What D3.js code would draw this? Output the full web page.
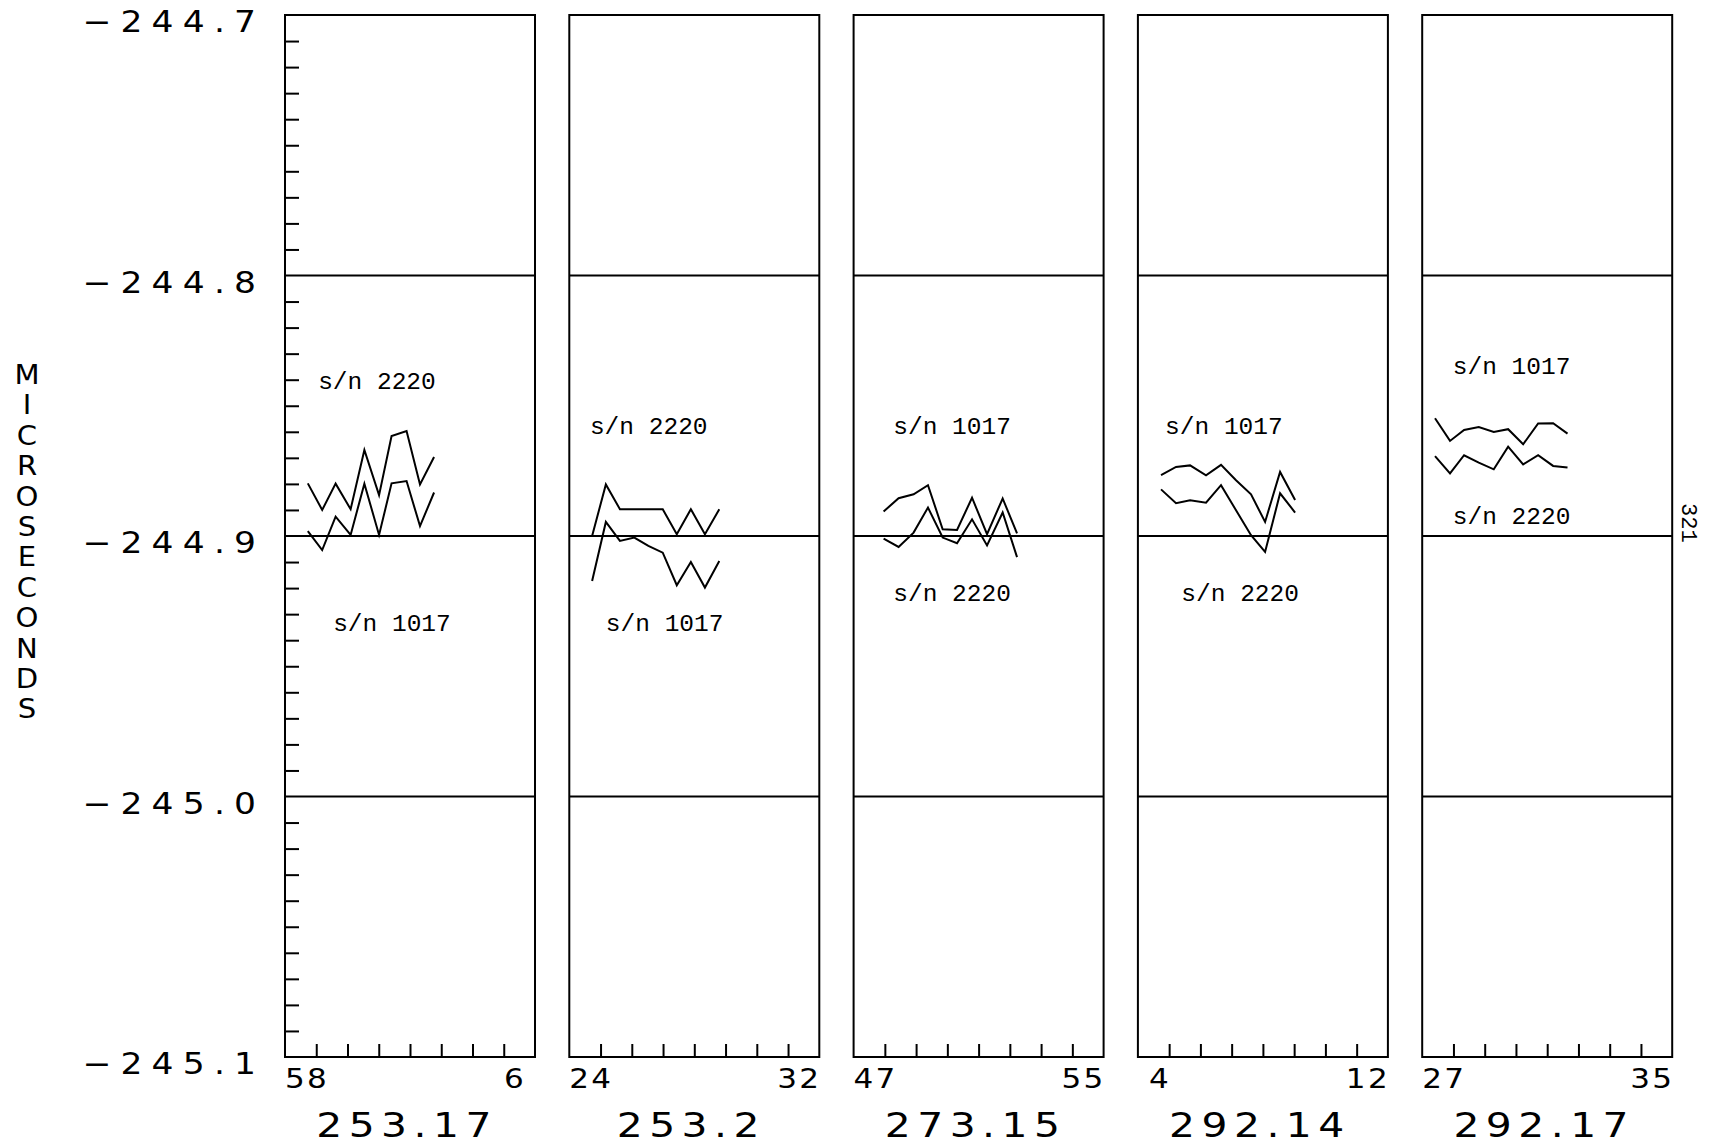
<!DOCTYPE html>
<html>
<head>
<meta charset="utf-8">
<script src="https://cdn.jsdelivr.net/npm/d3@7"></script>
<style>
  html, body { margin: 0; padding: 0; background: #fff; }
  svg { display: block; }
</style>
</head>
<body>
<svg id="chart" width="1717" height="1147"></svg>
<script>
// ---------- data ----------
const panelLabels = ["253.17", "253.2", "273.15", "292.14", "292.17"];
const startLabels = ["58", "24", "47", "4", "27"];
const endLabels   = ["6", "32", "55", "12", "35"];
const yMajorTicks = [-244.7, -244.8, -244.9, -245.0, -245.1];
const yTitle = "MICROSECONDS";
const pageNumber = "321";

// sample times, minutes after the start of each panel's window
const sampleMinutes = [
  [0.73, 1.19, 1.62, 2.10, 2.54, 3.01, 3.41, 3.89, 4.32, 4.77],
  [0.73, 1.17, 1.62, 2.08, 2.53, 2.99, 3.44, 3.89, 4.34, 4.80],
  [0.96, 1.44, 1.92, 2.38, 2.85, 3.31, 3.79, 4.27, 4.77, 5.23],
  [0.74, 1.22, 1.67, 2.18, 2.66, 3.14, 3.62, 4.07, 4.55, 5.03],
  [0.41, 0.89, 1.34, 1.81, 2.29, 2.75, 3.23, 3.71, 4.19, 4.65]
];
// s/n 2220 readings (microseconds)
const sn2220 = [
  [-244.8798, -244.8900, -244.8799, -244.8897, -244.8670, -244.8843, -244.8616, -244.8597, -244.8802, -244.8697],
  [-244.9000, -244.8802, -244.8897, -244.8897, -244.8897, -244.8897, -244.8993, -244.8897, -244.8993, -244.8897],
  [-244.9010, -244.9042, -244.8987, -244.8891, -244.9006, -244.9028, -244.8936, -244.9036, -244.8910, -244.9081],
  [-244.8821, -244.8874, -244.8863, -244.8872, -244.8805, -244.8901, -244.8997, -244.9061, -244.8836, -244.8910],
  [-244.8693, -244.8760, -244.8690, -244.8718, -244.8744, -244.8657, -244.8725, -244.8690, -244.8731, -244.8737]
];
// s/n 1017 readings (microseconds)
const sn1017 = [
  [-244.8981, -244.9054, -244.8926, -244.8996, -244.8799, -244.8996, -244.8798, -244.8789, -244.8962, -244.8833],
  [-244.9173, -244.8946, -244.9019, -244.9006, -244.9038, -244.9064, -244.9189, -244.9100, -244.9198, -244.9096],
  [-244.8906, -244.8855, -244.8840, -244.8805, -244.8974, -244.8977, -244.8853, -244.8993, -244.8856, -244.8990],
  [-244.8766, -244.8735, -244.8729, -244.8767, -244.8727, -244.8786, -244.8840, -244.8946, -244.8754, -244.8862],
  [-244.8548, -244.8635, -244.8593, -244.8582, -244.8601, -244.8590, -244.8648, -244.8568, -244.8567, -244.8607]
];
// series name labels: [panel, text, minute, value]
const seriesNotes = [
  [0, "s/n 2220", 1.06, -244.8437], [0, "s/n 1017", 1.54, -244.9366],
  [1, "s/n 2220", 0.66, -244.8610], [1, "s/n 1017", 1.17, -244.9366],
  [2, "s/n 1017", 1.27, -244.8610], [2, "s/n 2220", 1.27, -244.9251],
  [3, "s/n 1017", 0.87, -244.8610], [3, "s/n 2220", 1.39, -244.9251],
  [4, "s/n 1017", 0.98, -244.8379], [4, "s/n 2220", 0.98, -244.8955]
];

// ---------- layout ----------
const svg = d3.select("#chart");
const plotTop = 15, plotBottom = 1057;
const firstLeft = 285, pitch = 284.3, panelW = 250;
const windowMinutes = 8;
const plotterFont = "'DejaVu Sans', sans-serif";
const typeFont = "'Liberation Mono', monospace";
const wide = 1.15;   // plotter lettering is wider than DejaVu

const y = d3.scaleLinear().domain([-245.1, -244.7]).range([plotBottom, plotTop]);
const fmt = d3.format(".1f");

function plotterText(parent, px, py, str, size, ls, anchor, sx) {
  return parent.append("text")
    .attr("transform", `translate(${px},${py}) scale(${sx},1)`)
    .attr("text-anchor", anchor)
    .attr("font-family", plotterFont).attr("font-size", size)
    .attr("letter-spacing", ls).attr("fill", "#000")
    .text(str);
}

panelLabels.forEach((lab, i) => {
  const left = firstLeft + i * pitch;
  const x = d3.scaleLinear().domain([0, windowMinutes]).range([left, left + panelW]);
  const g = svg.append("g");

  // horizontal grid lines at interior major values
  g.selectAll("line.grid")
    .data(yMajorTicks.slice(1, -1))
    .join("line")
    .attr("x1", left).attr("x2", left + panelW)
    .attr("y1", d => y(d)).attr("y2", d => y(d))
    .attr("stroke", "#000").attr("stroke-width", 1.8);

  // bottom minute ticks
  const xa = g.append("g")
    .attr("transform", `translate(0,${plotBottom})`)
    .call(d3.axisBottom(x).tickValues(d3.range(1, windowMinutes)).tickSize(-13).tickFormat(""));
  xa.select(".domain").remove();
  xa.selectAll(".tick line").attr("stroke", "#000").attr("stroke-width", 2);

  // minor y ticks on first panel only
  if (i === 0) {
    const minor = d3.range(0, 41).map(k => -245.1 + k * 0.01)
      .filter(v => yMajorTicks.every(m => Math.abs(m - v) > 1e-6));
    const ya = g.append("g")
      .attr("transform", `translate(${left},0)`)
      .call(d3.axisLeft(y).tickValues(minor).tickSize(-14).tickFormat(""));
    ya.select(".domain").remove();
    ya.selectAll(".tick line").attr("stroke", "#000").attr("stroke-width", 2);
  }

  // frame
  g.append("rect")
    .attr("x", left).attr("y", plotTop)
    .attr("width", panelW).attr("height", plotBottom - plotTop)
    .attr("fill", "none").attr("stroke", "#000").attr("stroke-width", 2);

  // series lines
  const line = d3.line().x(d => x(d[0])).y(d => y(d[1]));
  [sn2220[i], sn1017[i]].forEach(vals => {
    g.append("path")
      .datum(sampleMinutes[i].map((m, k) => [m, vals[k]]))
      .attr("d", line)
      .attr("fill", "none").attr("stroke", "#000")
      .attr("stroke-width", 2).attr("stroke-linejoin", "miter");
  });

  // series notes
  seriesNotes.filter(n => n[0] === i).forEach(n => {
    g.append("text")
      .attr("x", x(n[2])).attr("y", y(n[3]))
      .attr("font-family", typeFont).attr("font-size", 24.5)
      .attr("fill", "#000")
      .text(n[1]);
  });

  // start / end minute labels
  plotterText(g, left + 22, 1088, startLabels[i], 27, 2, "middle", wide);
  plotterText(g, left + panelW - 20, 1088, endLabels[i], 27, 2, "middle", wide);

  // panel category label
  plotterText(g, left + panelW / 2 - 3, 1137, lab, 34, 5.4, "middle", 1.2);
});

// y tick labels
yMajorTicks.forEach(d => {
  plotterText(svg, 256 + 8 * wide, y(d) + 17, fmt(d), 30, 8, "end", wide);
});

// stacked y axis title, one upright letter per line
yTitle.split("").forEach((ch, k) => {
  plotterText(svg, 27, 384 + k * 30.4, ch, 26, 0, "middle", 1.12);
});

// page number, rotated
svg.append("text")
  .attr("transform", "translate(1682,503) rotate(90)")
  .attr("font-family", typeFont).attr("font-size", 22)
  .attr("fill", "#000")
  .text(pageNumber);
</script>
</body>
</html>
